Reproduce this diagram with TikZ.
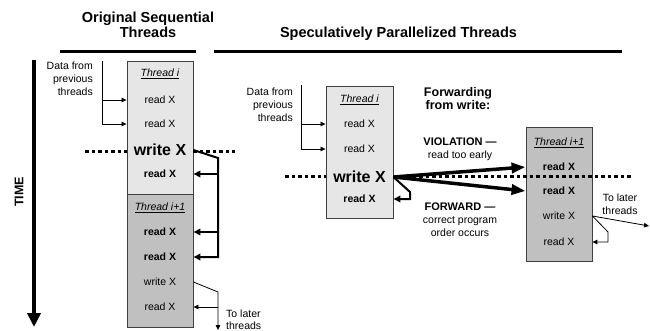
\documentclass[tikz,border=0pt]{standalone}
\usepackage{fontspec}
\setmainfont{Liberation Sans}
\usetikzlibrary{arrows.meta}
\definecolor{lightfill}{RGB}{230,230,230}
\definecolor{darkfill}{RGB}{192,192,192}
\definecolor{boxline}{RGB}{64,64,64}
\begin{document}
\begin{tikzpicture}[x=1pt,y=-1pt,
  sec/.style={draw=boxline, line width=0.9pt, minimum width=66pt, minimum height=133pt, inner sep=0},
  lbl/.style={inner sep=0, font=\fontsize{10.5}{13}\selectfont, text height=7.6pt, text depth=0pt},
  blbl/.style={lbl, font=\fontsize{10.5}{13}\selectfont\bfseries},
  wlbl/.style={inner sep=0, font=\fontsize{16}{18}\selectfont\bfseries, text height=11.5pt, text depth=0pt},
  note/.style={inner sep=0, font=\fontsize{10.5}{13}\selectfont},
  ttl/.style={inner sep=0, font=\fontsize{14.5}{15}\selectfont\bfseries, align=center},
  thinln/.style={line width=0.8pt},
  thinarr/.style={line width=0.8pt, -{Triangle[length=5pt,width=4.5pt]}},
  fwdln/.style={line width=2pt},
  fwdarr/.style={line width=2pt, -{Triangle[length=7pt,width=6.5pt]}},
  bigarr/.style={line width=3.5pt, -{Triangle[length=14pt,width=10pt]}},
  dotln/.style={line width=3pt, dash pattern=on 3.5pt off 3pt},
  rule/.style={line width=3pt}
]
\useasboundingbox (0,0) rectangle (650,331);

% titles
\node[ttl, anchor=north] (t1) at (148,11.6) {Original Sequential\\Threads};
\node[ttl, anchor=base] (t2) at (398.5,37.2) {Speculatively Parallelized Threads};
\coordinate (u1a) at (60,52); \coordinate (u1b) at (196,52);
\coordinate (u2a) at (214,52); \coordinate (u2b) at (622,52);
\draw[rule] (u1a) -- (u1b);
\draw[rule] (u2a) -- (u2b);

% time arrow
\coordinate (tt) at (34,60); \coordinate (tb) at (34,327);
\draw[line width=4.5pt, -{Triangle[length=14pt,width=13pt]}] (tt) -- (tb);
\node[inner sep=0, font=\fontsize{12.5}{14}\selectfont\bfseries, rotate=90] (time) at (19,192) {TIME};

% ---------- left column ----------
\node[sec, fill=lightfill] (Li) at (160,127.5) {};
\node[sec, fill=darkfill] (Li1) at (160,260.5) {};

\node[lbl] (Lt1) at (160,73) {\underline{\itshape Thread i}};
\node[lbl] (La) at (160,100) {read X};
\node[lbl] (Lb) at (160,124) {read X};
\node[wlbl] (Lw) at (160,150) {write X};
\node[blbl] (Lc) at (160,174) {read X};
\node[lbl] (Lt2) at (160,207) {\underline{\itshape Thread i+1}};
\node[blbl] (Ld) at (160,232) {read X};
\node[blbl] (Le) at (160,257) {read X};
\node[lbl] (Lw2) at (160,282) {write X};
\node[lbl] (Lf) at (160,307) {read X};

\node[note, align=right, anchor=north east] (ldata) at (93,62) {Data from\\previous\\threads};
\coordinate (ldt) at (102,61);
\draw[thinln] (ldt) -- (ldt |- Lb);
\draw[thinarr] (ldt |- La) -- (La -| Li.west);
\draw[thinarr] (ldt |- Lb) -- (Lb -| Li.west);

% dotted time line left
\coordinate (ld1) at (85,152); \coordinate (ld2) at (235,152);
\draw[dotln] (ld1) -- (ld1 -| Li.west);
\draw[dotln] (ld2 -| Li.east) -- (ld2);

% forwarding in sequential
\coordinate (lk) at (218,158);
\draw[fwdarr] (Lw -| Li.east) -- (lk) |- (Le -| Li.east);
\draw[fwdarr] (lk |- Lc) -- (Lc -| Li.east);
\draw[fwdarr] (lk |- Ld) -- (Ld -| Li1.east);

\coordinate (lk2) at (218,292); \coordinate (lend) at (218,330);
\draw[thinarr] (Lw2 -| Li1.east) -- (lk2) -- (lend);
\draw[thinarr] (lk2 |- Lf) -- (Lf -| Li1.east);
\node[inner sep=0, font=\fontsize{10.5}{12}\selectfont, align=left, anchor=north west] (llater) at (226,309.5) {To later\\threads};

% ---------- right panel ----------
\node[sec, fill=lightfill, minimum width=67pt, minimum height=132pt] (Ri) at (359.5,152) {};
\node[sec, fill=darkfill, minimum height=134pt] (Ri1) at (559,194) {};

\node[lbl] (Rt) at (359.5,99) {\underline{\itshape Thread i}};
\node[lbl] (Ra) at (359.5,124) {read X};
\node[lbl] (Rb) at (359.5,149) {read X};
\node[wlbl] (Rw) at (359.5,177) {write X};
\node[blbl] (Rc) at (359.5,199) {read X};

\node[lbl] (Qt) at (559,142) {\underline{\itshape Thread i+1}};
\node[blbl] (Qa) at (559,167) {read X};
\node[blbl] (Qb) at (559,191) {read X};
\node[lbl] (Qw) at (559,216) {write X};
\node[lbl] (Qc) at (559,242) {read X};

\node[note, align=right, anchor=north east] (rdata) at (293,88) {Data from\\previous\\threads};
\coordinate (rdt) at (301,85);
\draw[thinln] (rdt) -- (rdt |- Rb);
\draw[thinarr] (rdt |- Ra) -- (Ra -| Ri.west);
\draw[thinarr] (rdt |- Rb) -- (Rb -| Ri.west);

% dotted line right
\coordinate (rd1) at (285,177); \coordinate (rd2) at (633,177);
\draw[dotln] (rd1) -- (rd1 -| Ri.west);
\draw[dotln] (rd2 -| Ri.east) -- (rd2);

% forwarding labels
\node[inner sep=0, font=\fontsize{12.5}{13}\selectfont\bfseries, align=center, anchor=north] (fw) at (458,87.5) {Forwarding\\from write:};
\node[note, align=center, anchor=north] (viol) at (460,138) {{\fontsize{11}{13}\selectfont\bfseries VIOLATION —}\\read too early};
\node[note, align=center, anchor=north] (forw) at (460,203) {{\fontsize{11}{13}\selectfont\bfseries FORWARD —}\\correct program\\order occurs};

% arrows
\draw[bigarr] (Rw -| Ri.east) -- (Qa -| Ri1.west);
\draw[bigarr] (Rw -| Ri.east) -- (Qb -| Ri1.west);
\coordinate (rk) at (410,192);
\draw[fwdarr] (Rw -| Ri.east) -- (rk) |- (Rc -| Ri.east);

\coordinate (rk2) at (608,232); \coordinate (rend) at (649,226);
\draw[thinarr] (Qw -| Ri1.east) -- (rk2) |- (Qc -| Ri1.east);
\draw[thinarr] (Qw -| Ri1.east) -- (rend);
\node[note, align=center, anchor=north] (rlater) at (620,194) {To later\\threads};
\end{tikzpicture}
\end{document}
